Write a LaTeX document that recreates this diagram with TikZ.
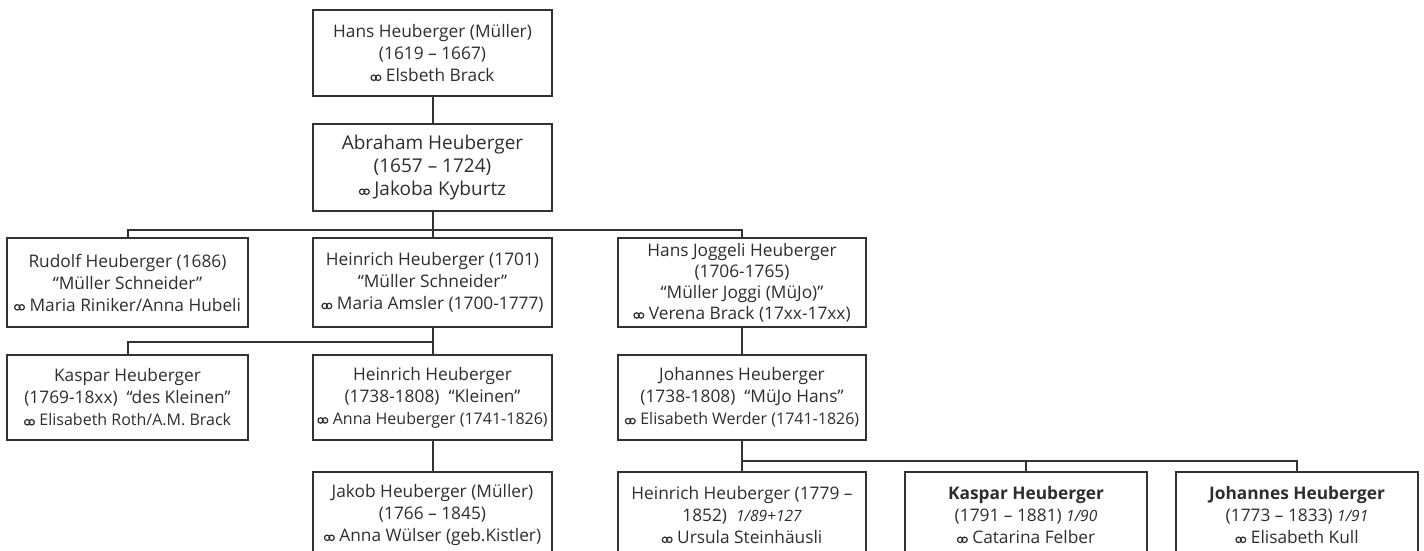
\documentclass[tikz,border=0pt]{standalone}
\usepackage{fontspec}
\setmainfont{Open Sans}
\newcommand{\mar}{\tikz[baseline=0pt]{\draw[line width=1.2pt,tx] (2.9pt,3.7pt) circle[radius=2.7pt] (7.3pt,3.7pt) circle[radius=2.7pt];}\hspace{4.5pt}}
\newcommand{\nt}[1]{{\itshape\fontsize{15.5}{16}\selectfont #1}}
\definecolor{ln}{HTML}{333333}
\definecolor{tx}{HTML}{2E2E2E}
\tikzset{
  box/.style={draw=ln, line width=2pt, fill=white, text=tx, align=center, inner sep=0pt,
    font=\fontsize{17.3}{22}\selectfont},
  conn/.style={draw=ln, line width=2pt}
}
\begin{document}
\begin{tikzpicture}[x=1pt,y=-1pt]
\useasboundingbox (0,0) rectangle (1424,551);
\clip (0,0) rectangle (1424,551);
\fill[white] (0,0) rectangle (1424,551);
% row 0,1
\node[box, minimum width=239, minimum height=86] (hans) at (432.5,53) {Hans Heuberger (Müller)\\(1619 – 1667)\\\mar Elsbeth Brack};
\node[box, minimum width=239, minimum height=87, font=\fontsize{19}{23}\selectfont] (abr) at (432.5,167.5) {Abraham Heuberger\\(1657 – 1724)\\\mar Jakoba Kyburtz};
% row 2
\node[box, minimum width=241, minimum height=89] (rud) at (127.5,282.5) {Rudolf Heuberger (1686)\\“Müller Schneider”\\\mar Maria Riniker/Anna Hubeli};
\node[box, minimum width=239, minimum height=89] (hei1) at (432.5,282.5) {Heinrich Heuberger (1701)\\“Müller Schneider”\\\mar Maria Amsler (1700-1777)};
\node[box, minimum width=248, minimum height=89, font=\fontsize{17.3}{21}\selectfont] (jog) at (742,282.5) {Hans Joggeli Heuberger\\(1706-1765)\\“Müller Joggi (MüJo)”\\\mar Verena Brack (17xx-17xx)};
% row 3
\node[box, minimum width=241, minimum height=85] (kas1) at (127.5,397.5) {Kaspar Heuberger\\(1769-18xx)~ “des Kleinen”\\{\fontsize{16}{16}\selectfont\mar Elisabeth Roth/A.M. Brack}};
\node[box, minimum width=239, minimum height=85] (hei2) at (432.5,397.5) {Heinrich Heuberger\\(1738-1808)~ “Kleinen”\\{\fontsize{16}{16}\selectfont\mar Anna Heuberger (1741-1826)}};
\node[box, minimum width=248, minimum height=85] (joh1) at (742,397.5) {Johannes Heuberger\\(1738-1808)~ “MüJo Hans”\\{\fontsize{16}{16}\selectfont\mar Elisabeth Werder (1741-1826)}};
% row 4
\node[box, minimum width=239, minimum height=86] (jak) at (432.5,515) {Jakob Heuberger (Müller)\\(1766 – 1845)\\\mar Anna Wülser (geb.Kistler)};
\node[box, minimum width=248, minimum height=86] (hei3) at (742,515) {Heinrich Heuberger (1779 –\\1852)~ \nt{1/89+127}\\\mar Ursula Steinhäusli};
\node[box, minimum width=242, minimum height=86] (kas2) at (1026,515) {\textbf{Kaspar Heuberger}\\(1791 – 1881) \nt{1/90}\\\mar Catarina Felber};
\node[box, minimum width=242, minimum height=86] (joh2) at (1297,515) {\textbf{Johannes Heuberger}\\(1773 – 1833) \nt{1/91}\\\mar Elisabeth Kull};
% connectors
\draw[conn] (hans.south) -- (abr.north);
\draw[conn] (abr.south) -- (hei1.north);
\draw[conn] (rud.north) -- ++(0,-7) -| (jog.north);
\draw[conn] (hei1.south) -- (hei2.north);
\draw[conn] (kas1.north) -- ++(0,-12) -| (hei2.north);
\draw[conn] (jog.south) -- (joh1.north);
\draw[conn] (hei2.south) -- (jak.north);
\draw[conn] (joh1.south) -- (hei3.north);
\draw[conn] (hei3.north) -- ++(0,-10) -| (joh2.north);
\draw[conn] (kas2.north) -- ++(0,-10);
\end{tikzpicture}
\end{document}
